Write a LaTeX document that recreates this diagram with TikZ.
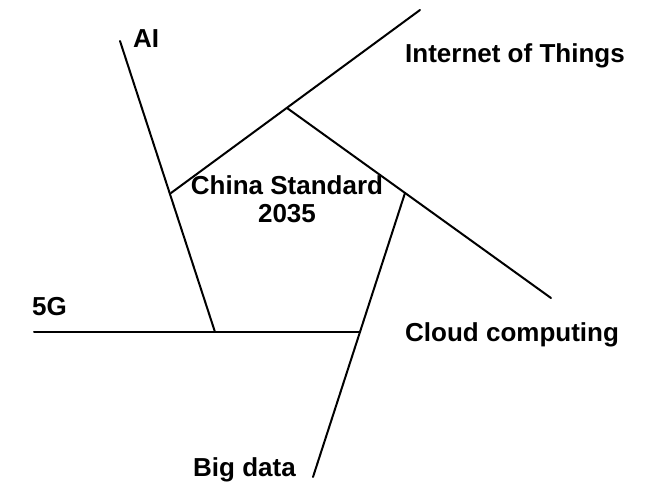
\documentclass[tikz,border=0pt]{standalone}
\usepackage{fontspec}
\setmainfont{Liberation Sans}
\begin{document}
\begin{tikzpicture}[x=1pt,y=-1pt,
  edge/.style={line width=2pt,line cap=round},
  lbl/.style={font=\fontsize{26}{28}\selectfont\bfseries,inner sep=0pt}]
\useasboundingbox[fill=white] (0,0) rectangle (654,493);
% pentagon vertices
\coordinate (L) at (171,193);
\coordinate (T) at (287,108);
\coordinate (R) at (405,193);
\coordinate (BR) at (360,332);
\coordinate (BL) at (215,332);
% free ends
\coordinate (aiEnd) at (120,41);
\coordinate (iotEnd) at (420,10);
\coordinate (cloudEnd) at (551,298);
\coordinate (bigEnd) at (313,477);
\coordinate (fgEnd) at (34,332);
% lines
\draw[edge] (aiEnd) -- (BL);
\draw[edge] (iotEnd) -- (L);
\draw[edge] (T) -- (cloudEnd);
\draw[edge] (R) -- (bigEnd);
\draw[edge] (fgEnd) -- (BR);
% labels
\node[lbl,anchor=base west] (ai) at (133,47) {AI};
\node[lbl,anchor=base west] (iot) at (405,62) {Internet of Things};
\node[lbl,anchor=base,align=center] (center) at (287,222) {China Standard\\2035};
\node[lbl,anchor=base west] (cloud) at (405,341) {Cloud computing};
\node[lbl,anchor=base west] (fg) at (32,315) {5G};
\node[lbl,anchor=base west] (big) at (193,476) {Big data};
\end{tikzpicture}
\end{document}
